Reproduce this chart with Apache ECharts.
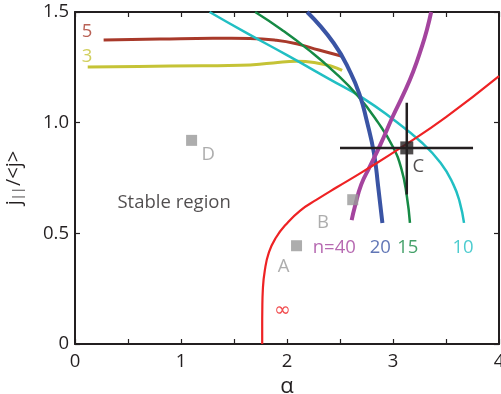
<!DOCTYPE html>
<html>
<head>
<meta charset="utf-8">
<script src="https://cdn.jsdelivr.net/npm/echarts@6/dist/echarts.min.js"></script>
<style>
  html, body { margin: 0; padding: 0; background: #fff; }
  #chart { width: 501px; height: 394px; }
</style>
</head>
<body>
<div id="chart"></div>
<script>
// Stability boundaries in the (alpha, j||/<j>) plane, one curve per mode number n
const curveInf = [[1.766,0],[1.766,0.08],[1.767,0.155],[1.772,0.245],[1.79,0.33],[1.83,0.415],[1.895,0.48],[1.99,0.54],[2.125,0.603],[2.28,0.652],[2.47,0.708],[2.72,0.78],[3.1,0.895],[3.5,1.025],[4.0,1.21]];
const curveN40 = [[2.61,0.56],[2.64,0.62],[2.70,0.72],[2.78,0.80],[2.88,0.90],[3.0,1.03],[3.10,1.13],[3.19,1.23],[3.27,1.34],[3.32,1.42],[3.36,1.5]];
const curveN20 = [[2.19,1.5],[2.44,1.36],[2.60,1.225],[2.69,1.119],[2.75,1.013],[2.82,0.863],[2.86,0.712],[2.90,0.547]];
const curveN15 = [[1.70,1.5],[1.95,1.42],[2.2,1.33],[2.44,1.232],[2.67,1.12],[2.86,1.0],[3.0,0.89],[3.08,0.79],[3.13,0.67],[3.16,0.547]];
const curveN10 = [[1.27,1.5],[1.6,1.41],[2.0,1.305],[2.4,1.197],[2.72,1.11],[3.0,1.015],[3.26,0.915],[3.45,0.818],[3.57,0.72],[3.63,0.64],[3.67,0.547]];
const curveN5 = [[0.27,1.374],[0.8,1.378],[1.3,1.381],[1.65,1.38],[1.9,1.372],[2.1,1.355],[2.3,1.328],[2.52,1.30]];
const curveN3 = [[0.12,1.251],[0.6,1.254],[1.2,1.257],[1.56,1.259],[1.87,1.27],[2.09,1.277],[2.28,1.27],[2.42,1.255],[2.52,1.236]];

// Experimental operating points
const pointsABD = [[2.09,0.444],[2.62,0.652],[1.10,0.92]];
const pointC = [3.13,0.886];
const errC_x = [2.50,3.755];
const errC_y = [0.675,1.09];

// Axis ticks
const xTickLabels = ['0','1','2','3','4'];
const yTickLabels = ['0','0.5','1.0','1.5'];

// Text annotations: [alpha, j, text, colour]
const notes = [
  [0.113,1.411,'5','#a8392a'],
  [0.113,1.300,'3','#c5c336'],
  [0.935,0.638,'Stable region','#231f20'],
  [1.256,0.855,'D','#999999'],
  [3.24,0.801,'C','#231f20'],
  [2.34,0.548,'B','#999999'],
  [1.967,0.35,'A','#999999'],
  [1.955,0.152,'\u221e','#ee2224'],
  [2.446,0.435,'n=40','#a4449e'],
  [2.88,0.435,'20','#3a54a4'],
  [3.14,0.435,'15','#168a45'],
  [3.66,0.435,'10','#21bfc3']
];

const FONT = 'Open Sans';
const INK = '#231f20';

function curve(data, color, width) {
  return {
    type: 'line', data: data, smooth: 0.5, showSymbol: false, symbol: 'none',
    lineStyle: { color: color, width: width }, silent: true, z: 3
  };
}

const chart = echarts.init(document.getElementById('chart'), null, { renderer: 'canvas' });

const baseX = {
  type: 'value', min: 0, max: 4, interval: 0.5,
  axisLine: { show: true, onZero: false, lineStyle: { color: INK, width: 2 } },
  axisTick: { show: true, inside: true, length: 5, lineStyle: { color: INK, width: 1.2 } },
  splitLine: { show: false }
};
const baseY = {
  type: 'value', min: 0, max: 1.5, interval: 0.5,
  axisLine: { show: true, onZero: false, lineStyle: { color: INK, width: 2 } },
  axisTick: { show: true, inside: true, length: 5, lineStyle: { color: INK, width: 1.2 } },
  splitLine: { show: false }
};

chart.setOption({
  animation: false,
  grid: { left: 75, right: 2, top: 12, bottom: 50, containLabel: false, outerBoundsMode: 'none' },
  xAxis: [
    Object.assign({}, baseX, {
      position: 'bottom',
      name: '\u03b1', nameLocation: 'middle', nameGap: 31,
      nameTextStyle: { fontFamily: FONT, fontSize: 22, color: INK },
      axisLabel: {
        show: true, margin: 8, fontFamily: FONT, fontSize: 18.5, color: INK,
        formatter: function (v) { return Number.isInteger(v) ? xTickLabels[v] : ''; }
      }
    }),
    Object.assign({}, baseX, { position: 'top', axisLabel: { show: false } })
  ],
  yAxis: [
    Object.assign({}, baseY, {
      position: 'left',
      name: '{m|j}{s|||}{m|/<j>}', nameLocation: 'middle', nameGap: 50, nameRotate: 90,
      nameTextStyle: {
        fontFamily: FONT, color: INK,
        rich: {
          m: { fontFamily: FONT, fontSize: 20, color: INK },
          s: { fontFamily: FONT, fontSize: 12, color: INK, padding: [10, 1, 0, 0] }
        }
      },
      axisLabel: {
        show: true, margin: 6, fontFamily: FONT, fontSize: 18.5, color: INK,
        formatter: function (v) { return yTickLabels[Math.round(v * 2)]; }
      }
    }),
    Object.assign({}, baseY, { position: 'right', axisLabel: { show: false } })
  ],
  series: [
    curve(curveN3, '#c5c336', 3),
    curve(curveN5, '#a8392a', 3),
    curve(curveN10, '#21bfc3', 2.5),
    curve(curveN15, '#168a45', 2.5),
    curve(curveN20, '#3a54a4', 4),
    curve(curveN40, '#a4449e', 4),
    curve(curveInf, '#ee2224', 2.2),
    // error bars through point C
    { type: 'line', data: [[errC_x[0], pointC[1]], [errC_x[1], pointC[1]]], symbol: 'none',
      lineStyle: { color: INK, width: 2.5 }, silent: true, z: 4 },
    { type: 'line', data: [[pointC[0], errC_y[0]], [pointC[0], errC_y[1]]], symbol: 'none',
      lineStyle: { color: INK, width: 2.5 }, silent: true, z: 4 },
    { type: 'scatter', data: [pointC], symbol: 'rect', symbolSize: 13,
      itemStyle: { color: INK }, silent: true, z: 5 },
    { type: 'scatter', data: pointsABD, symbol: 'rect', symbolSize: 11,
      itemStyle: { color: '#999999' }, silent: true, z: 5 },
    // labels (the infinity glyph is drawn larger so it reads at the same weight)
    { type: 'scatter', symbolSize: 0, silent: true, z: 6,
      data: notes.map(function (n) {
        return {
          value: [n[0], n[1]],
          label: {
            show: true, position: 'inside', formatter: n[2], color: n[3],
            fontFamily: n[2] === '\u221e' ? 'DejaVu Sans' : FONT,
            fontSize: n[2] === '\u221e' ? 20 : 18.5
          }
        };
      })
    }
  ]
});
</script>
</body>
</html>
